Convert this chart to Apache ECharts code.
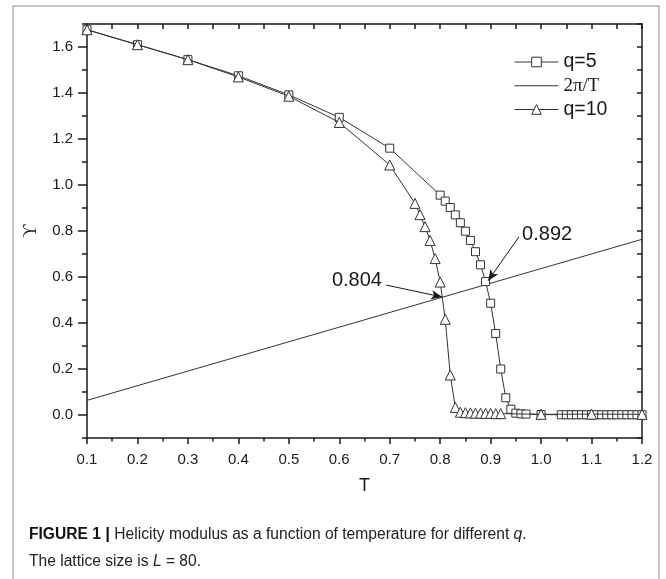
<!DOCTYPE html>
<html>
<head>
<meta charset="utf-8">
<script src="https://cdn.jsdelivr.net/npm/echarts@6/dist/echarts.min.js"></script>
<style>
  html, body { margin: 0; padding: 0; background: #fff; }
  #chart { width: 666px; height: 579px; }
</style>
</head>
<body>
<div id="chart"></div>
<script>
// q=5 (squares)
const T5 = [0.1, 0.2, 0.3, 0.4, 0.5, 0.6, 0.7, 0.8, 0.81, 0.82, 0.83, 0.84, 0.85, 0.86, 0.87, 0.88, 0.89, 0.9,
  0.91, 0.92, 0.93, 0.94, 0.95, 0.96, 0.97, 1.0, 1.04, 1.05, 1.06, 1.07, 1.08, 1.09, 1.1, 1.11, 1.12, 1.13,
  1.14, 1.15, 1.16, 1.17, 1.18, 1.19, 1.2];
const G5 = [1.675, 1.61, 1.545, 1.475, 1.392, 1.294, 1.16, 0.956, 0.93, 0.902, 0.87, 0.836, 0.799, 0.759, 0.71,
  0.653, 0.58, 0.486, 0.354, 0.2, 0.075, 0.025, 0.008, 0.005, 0.004, 0.002, 0.001, 0.001, 0.001, 0.001, 0.001,
  0.001, 0.001, 0.001, 0.001, 0.001, 0.001, 0.001, 0.001, 0.001, 0.001, 0.001, 0.001];

// q=10 (triangles)
const T10 = [0.1, 0.2, 0.3, 0.4, 0.5, 0.6, 0.7, 0.75, 0.76, 0.77, 0.78, 0.79, 0.8, 0.81, 0.82, 0.83, 0.84, 0.85,
  0.86, 0.87, 0.88, 0.89, 0.9, 0.91, 0.92, 1.0, 1.1, 1.2];
const G10 = [1.675, 1.61, 1.545, 1.47, 1.386, 1.272, 1.087, 0.92, 0.871, 0.819, 0.759, 0.68, 0.578, 0.416, 0.174,
  0.033, 0.012, 0.01, 0.009, 0.008, 0.008, 0.007, 0.007, 0.006, 0.006, 0.003, 0.004, 0.003];

// reference line, end points
const TLINE = [0.1, 1.2];
const GLINE = [0.0637, 0.7639];

// tick labels of the y axis
const Y_LABELS = [0, 0.2, 0.4, 0.6, 0.8, 1.0, 1.2, 1.4, 1.6];

// annotations: label, label position, arrow start, arrow tip
const NOTES = [
  { text: '0.804', at: [0.635, 0.583], from: [0.693, 0.565], to: [0.804, 0.513] },
  { text: '0.892', at: [1.012, 0.787], from: [0.956, 0.774], to: [0.895, 0.584] },
];

const INK = '#1a1a1a';
const SANS = '"Liberation Sans", Arial, sans-serif';
const SERIF = '"Liberation Serif", "DejaVu Serif", serif';

const chart = echarts.init(document.getElementById('chart'));

const axisLine = { show: true, onZero: false, lineStyle: { color: INK, width: 1.5 } };
const tickStyle = { color: INK, width: 1.5 };

const pairs = (xs, ys) => xs.map((x, i) => [x, ys[i]]);

chart.setOption({
  animation: false,
  backgroundColor: '#fff',
  grid: { left: 87, right: 24, top: 24, bottom: 141 },
  legend: {
    orient: 'vertical',
    left: 514,
    top: 52,
    padding: 0,
    itemWidth: 44,
    itemHeight: 12,
    itemGap: 4,
    itemStyle: { borderWidth: 1 },
    lineStyle: { width: 1 },
    textStyle: { fontFamily: SANS, fontSize: 19.5, color: INK, lineHeight: 19.5,
      rich: { s: { fontFamily: SERIF, fontSize: 19, color: INK } } },
    formatter: (name) => (name === '2π/T' ? '{s|2π/T}' : name),
    data: ['q=5', { name: '2π/T', itemStyle: { opacity: 0 } }, 'q=10'],
  },
  xAxis: [
    {
      type: 'value', position: 'bottom', min: 0.1, max: 1.2, interval: 0.1,
      axisLine,
      axisTick: { length: 6, lineStyle: tickStyle },
      minorTick: { show: true, splitNumber: 2, length: 3.5, lineStyle: tickStyle },
      axisLabel: { formatter: (v) => v.toFixed(1), fontFamily: SANS, fontSize: 15, color: INK, margin: 14 },
      splitLine: { show: false },
      name: 'T', nameLocation: 'middle', nameGap: 39,
      nameTextStyle: { fontFamily: SANS, fontSize: 18, color: INK },
    },
    {
      type: 'value', position: 'top', min: 0.1, max: 1.2, interval: 0.05,
      axisLine,
      axisTick: { inside: true, length: 5, lineStyle: tickStyle },
      axisLabel: { show: false },
      splitLine: { show: false },
    },
  ],
  yAxis: [
    {
      // scale ticks fall on odd tenths, the minor ticks on even tenths
      type: 'value', position: 'left', min: -0.1, max: 1.7, interval: 0.2,
      axisLine,
      axisTick: { length: 5, lineStyle: tickStyle },
      minorTick: { show: true, splitNumber: 2, length: 9, lineStyle: tickStyle },
      axisLabel: { customValues: Y_LABELS, formatter: (v) => v.toFixed(1),
        fontFamily: SANS, fontSize: 15, color: INK, margin: 14 },
      splitLine: { show: false },
      minorSplitLine: { show: false },
      name: 'ϒ', nameLocation: 'middle', nameGap: 47, nameRotate: 90,
      nameTextStyle: { fontFamily: SERIF, fontSize: 18, color: INK },
    },
    {
      type: 'value', position: 'right', min: -0.1, max: 1.7, interval: 0.1,
      axisLine,
      axisTick: { inside: true, length: 5, lineStyle: tickStyle },
      axisLabel: { show: false },
      splitLine: { show: false },
    },
  ],
  series: [
    {
      name: 'q=5', type: 'line', data: pairs(T5, G5),
      symbol: 'rect', symbolSize: 8, showAllSymbol: true,
      lineStyle: { color: '#333', width: 1 },
      itemStyle: { color: '#fff', borderColor: '#333', borderWidth: 1 },
      z: 3,
    },
    {
      name: '2π/T', type: 'line', data: pairs(TLINE, GLINE),
      symbol: 'none',
      lineStyle: { color: '#333', width: 1 },
      itemStyle: { color: '#333' },
      markLine: {
        silent: true,
        symbol: ['none', 'arrow'],
        symbolSize: [7, 11],
        lineStyle: { color: INK, width: 1, type: 'solid' },
        label: { show: false },
        data: NOTES.map((n) => [{ coord: n.from }, { coord: n.to }]),
      },
      markPoint: {
        silent: true,
        symbol: 'circle', symbolSize: 1,
        itemStyle: { color: 'rgba(0,0,0,0)' },
        label: { show: true, position: 'inside', fontFamily: SANS, fontSize: 20, color: INK },
        data: NOTES.map((n) => ({ coord: n.at, value: n.text, label: { formatter: n.text } })),
      },
      z: 2,
    },
    {
      name: 'q=10', type: 'line', data: pairs(T10, G10),
      symbol: 'triangle', symbolSize: 10, showAllSymbol: true,
      lineStyle: { color: '#333', width: 1 },
      itemStyle: { color: '#fff', borderColor: '#333', borderWidth: 1 },
      z: 4,
    },
  ],
  graphic: [
    {
      type: 'rect', silent: true, z: -1,
      shape: { x: 13, y: 6, width: 646, height: 620 },
      style: { fill: 'none', stroke: '#b4b4b4', lineWidth: 1.5 },
    },
    {
      type: 'text', left: 29, top: 521, silent: true,
      style: {
        text: '{b|FIGURE 1} {p||} Helicity modulus as a function of temperature for different {i|q}.\nThe lattice size is {i|L} = 80.',
        font: '15.6px ' + SANS,
        fill: '#222',
        lineHeight: 27,
        rich: {
          b: { fontWeight: 'bold', fontSize: 15.6, fontFamily: SANS, fill: '#111', lineHeight: 27 },
          p: { fontWeight: 'bold', fontSize: 17, fontFamily: SANS, fill: '#111', lineHeight: 27 },
          i: { fontStyle: 'italic', fontSize: 15.6, fontFamily: SANS, fill: '#222', lineHeight: 27 },
        },
      },
    },
  ],
});
</script>
</body>
</html>
